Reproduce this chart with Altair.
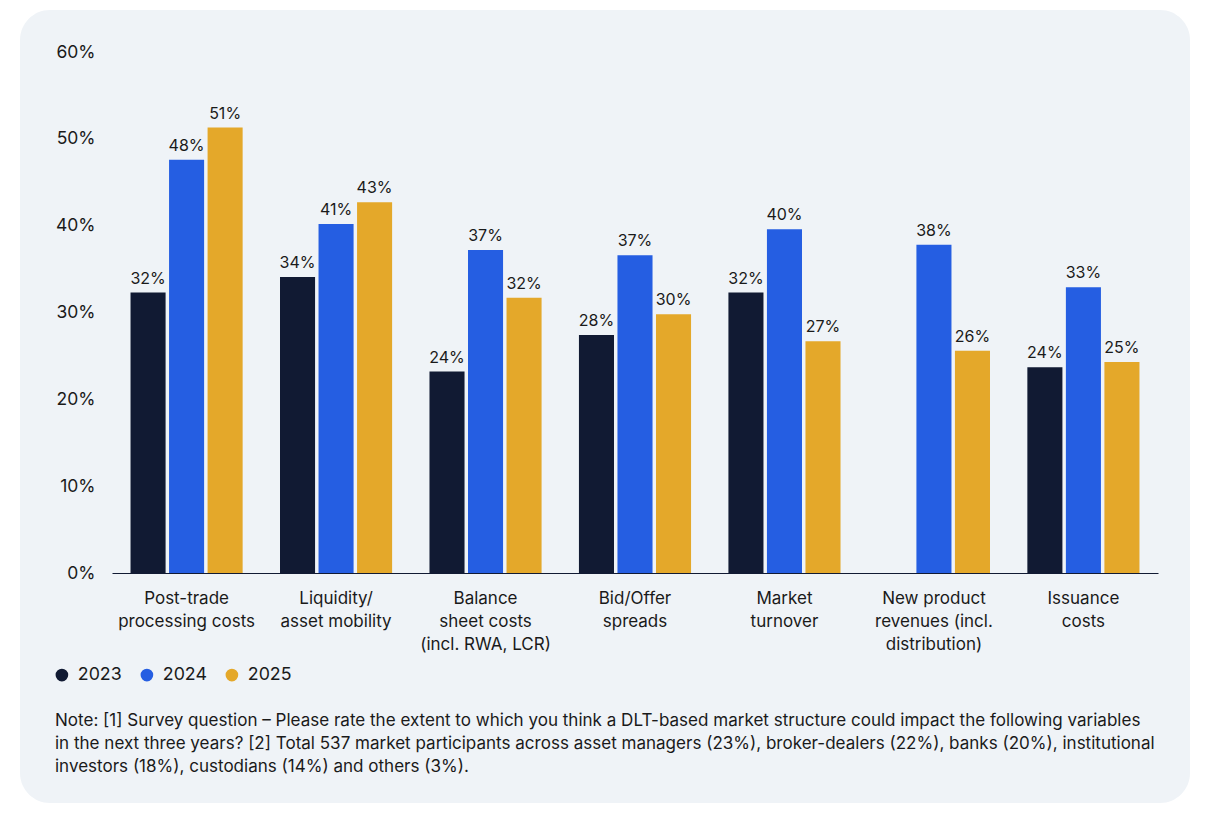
import altair as alt
import pandas as pd

categories = [
    "Post-trade|processing costs",
    "Liquidity/|asset mobility",
    "Balance|sheet costs|(incl. RWA, LCR)",
    "Bid/Offer|spreads",
    "Market|turnover",
    "New product|revenues (incl.|distribution)",
    "Issuance|costs",
]
years = ["2023", "2024", "2025"]
# bar heights (%)
v2023 = [32.3, 34.1, 23.2, 27.4, 32.3, None, 23.7]
v2024 = [47.6, 40.2, 37.2, 36.6, 39.6, 37.8, 32.9]
v2025 = [51.3, 42.7, 31.7, 29.8, 26.7, 25.6, 24.3]
# printed labels
l2023 = ["32%", "34%", "24%", "28%", "32%", None, "24%"]
l2024 = ["48%", "41%", "37%", "37%", "40%", "38%", "33%"]
l2025 = ["51%", "43%", "32%", "30%", "27%", "26%", "25%"]
colors = ["#111a33", "#255ee2", "#e4a82a"]
y_ticks = [0, 10, 20, 30, 40, 50, 60]
note = ("Note: [1] Survey question \u2013 Please rate the extent to which you think a DLT-based market structure could impact the following variables\n"
        "in the next three years? [2] Total 537 market participants across asset managers (23%), broker-dealers (22%), banks (20%), institutional\n"
        "investors (18%), custodians (14%) and others (3%).")

rows = []
for vals, labs, yr in [(v2023, l2023, "2023"), (v2024, l2024, "2024"), (v2025, l2025, "2025")]:
    for c, v, l in zip(categories, vals, labs):
        if v is not None:
            rows.append({"category": c, "year": yr, "value": v, "label": l})
df = pd.DataFrame(rows)

FONT = "Inter"
TXT = "#1a1a1a"

x_enc = alt.X("category:N", sort=categories,
              scale=alt.Scale(paddingInner=0.25, paddingOuter=0.124, round=False),
              axis=alt.Axis(title=None, labelAngle=0, labelExpr="split(datum.label, '|')",
                            labelFontSize=17, labelColor=TXT, labelFont=FONT,
                            labelLineHeight=23, labelPadding=17, ticks=False,
                            domainColor="#111a33", domainWidth=1.2, labelBaseline="top",
                            zindex=1))
xoff = alt.XOffset("year:N", sort=years, scale=alt.Scale(paddingInner=0.09, round=False))
y_enc = alt.Y("value:Q", scale=alt.Scale(domain=[0, 60]),
              axis=alt.Axis(title=None, values=y_ticks, labelExpr="datum.value + '%'",
                            grid=False, domain=False, ticks=False, labelFontSize=17.5,
                            labelColor=TXT, labelFont=FONT, labelPadding=17, zindex=1))
color_enc = alt.Color("year:N", sort=years,
                      scale=alt.Scale(domain=years, range=colors),
                      legend=alt.Legend(title=None, orient="none", direction="horizontal",
                                        legendX=-59, legendY=614, symbolType="circle",
                                        symbolSize=160, labelFontSize=17.8, labelFont=FONT,
                                        labelColor=TXT, labelOffset=7,
                                        columnPadding=16, symbolStrokeWidth=0))

bg = alt.Chart(pd.DataFrame({"a": [0]})).mark_rect(
    color="#eff3f7", cornerRadius=30
).encode(x=alt.value(-92), x2=alt.value(1078), y=alt.value(-42), y2=alt.value(751))

bars = alt.Chart(df).mark_bar().encode(x=x_enc, xOffset=xoff, y=y_enc, color=color_enc)

labels = alt.Chart(df).mark_text(
    baseline="bottom", dy=-6, fontSize=16, font=FONT, color=TXT
).encode(x=alt.X("category:N", sort=categories), xOffset=xoff, y="value:Q", text="label:N")

note_t = alt.Chart(pd.DataFrame({"t": [note]})).mark_text(
    align="left", baseline="middle", lineBreak="\n", lineHeight=23,
    fontSize=17.05, font=FONT, color=TXT
).encode(x=alt.value(-57), y=alt.value(669), text="t:N")

chart = alt.layer(bg, bars, labels, note_t).properties(
    width=1046, height=521,
    autosize=alt.AutoSizeParams(type="none"),
    padding={"left": 104, "top": 44, "right": 40, "bottom": 232},
    background="white",
).configure_view(stroke=None)

chart.save("out.html", embed_options={"renderer": "svg", "actions": False})
